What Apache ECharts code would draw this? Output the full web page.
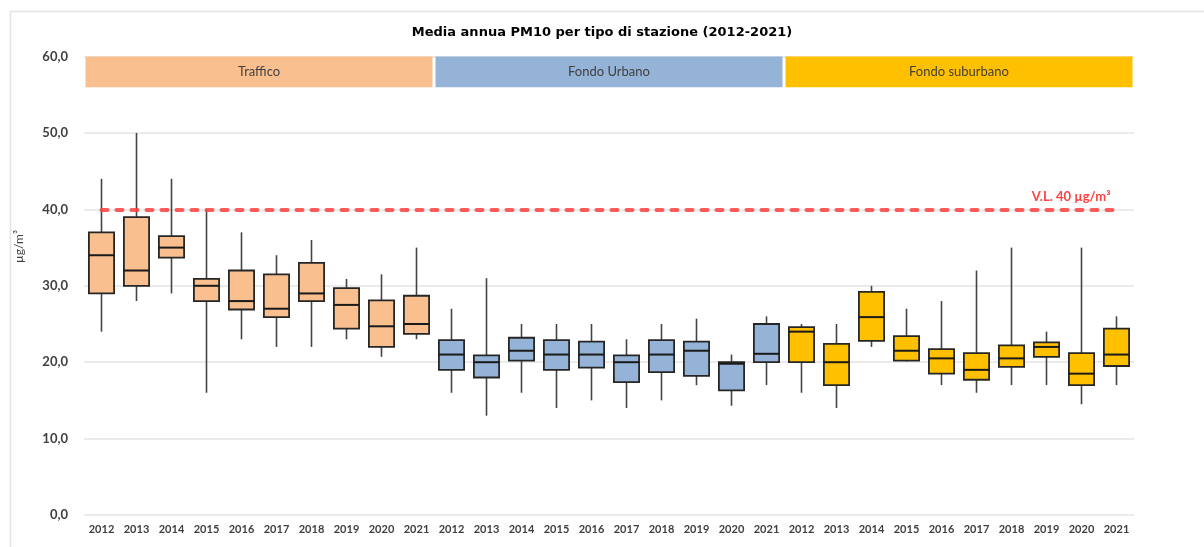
<!DOCTYPE html>
<html>
<head>
<meta charset="utf-8">
<title>Media annua PM10 per tipo di stazione</title>
<script src="https://cdn.jsdelivr.net/npm/echarts@6/dist/echarts.min.js"></script>
<style>
    html, body { margin: 0; padding: 0; background: #fff; }
    #chart { width: 1204px; height: 547px; }
</style>
</head>
<body>
<div id="chart"></div>
<script>
/**
 * data
 * each box: [min, q1, median, q3, max]
 */
var years = ['2012','2013','2014','2015','2016','2017','2018','2019','2020','2021'];
var groupNames = ['Traffico', 'Fondo Urbano', 'Fondo suburbano'];
var groupColors = ['#F9BF8F', '#95B3D7', '#FFC000'];

var trafficoData = [
    [24.0, 29.0, 34.0, 37.0, 44.0],
    [28.0, 30.0, 32.0, 39.0, 50.0],
    [29.0, 33.7, 35.0, 36.5, 44.0],
    [16.0, 28.0, 30.0, 30.9, 40.0],
    [23.0, 26.9, 28.0, 32.0, 37.0],
    [22.0, 25.9, 27.0, 31.5, 34.0],
    [22.0, 28.0, 29.0, 33.0, 36.0],
    [23.0, 24.4, 27.5, 29.7, 30.9],
    [20.7, 22.0, 24.7, 28.1, 31.5],
    [23.0, 23.7, 25.0, 28.7, 35.0]
];
var urbanoData = [
    [16.0, 19.0, 21.0, 22.9, 27.0],
    [13.0, 18.0, 20.0, 20.9, 31.0],
    [16.0, 20.2, 21.5, 23.2, 25.0],
    [14.0, 19.0, 21.0, 22.9, 25.0],
    [15.0, 19.3, 21.0, 22.7, 25.0],
    [14.0, 17.4, 20.0, 20.9, 23.0],
    [15.0, 18.7, 21.0, 22.9, 25.0],
    [17.0, 18.2, 21.5, 22.7, 25.7],
    [14.3, 16.3, 19.8, 20.0, 21.0],
    [17.0, 20.0, 21.1, 25.0, 26.0]
];
var suburbanoData = [
    [16.0, 20.0, 24.0, 24.6, 25.0],
    [14.0, 17.0, 20.0, 22.4, 25.0],
    [22.0, 22.8, 25.9, 29.2, 30.0],
    [20.1, 20.2, 21.5, 23.4, 27.0],
    [17.0, 18.5, 20.5, 21.7, 28.0],
    [16.0, 17.7, 19.0, 21.2, 32.0],
    [17.0, 19.4, 20.5, 22.2, 35.0],
    [17.0, 20.7, 22.0, 22.6, 24.0],
    [14.5, 17.0, 18.5, 21.2, 35.0],
    [17.0, 19.5, 21.0, 24.4, 26.0]
];

var limitValue = 40;
var limitLabel = 'V.L. 40 \u00b5g/m\u00b3';
var yTicks = [0, 10, 20, 30, 40, 50, 60];
var bandRange = [56, 60];

var textColor = '#404040';
var fontName = 'Lato, "Open Sans", sans-serif';

// category labels: 3 groups x 10 years
var categories = [];
groupNames.forEach(function(){ categories = categories.concat(years); });

/**
 * build custom series data for one group
 */
function buildBoxData(rows, groupIndex){
    var out = [];
    rows.forEach(function(r, k){
        out.push([groupIndex * years.length + k, r[0], r[1], r[2], r[3], r[4]]);
    });
    return out;
}

/**
 * draw a box with whiskers (no end caps, like the source)
 */
function renderBox(params, api){
    var x = api.value(0);
    var pMin = api.coord([x, api.value(1)]);
    var pQ1 = api.coord([x, api.value(2)]);
    var pMed = api.coord([x, api.value(3)]);
    var pQ3 = api.coord([x, api.value(4)]);
    var pMax = api.coord([x, api.value(5)]);
    var w = api.size([1, 0])[0] * 0.72;
    var cx = pMed[0];
    var fill = api.visual('color');
    return {
        type: 'group',
        children: [
            {
                type: 'line',
                shape: { x1: cx, y1: pMax[1], x2: cx, y2: pMin[1] },
                style: { stroke: '#444444', lineWidth: 1.6 }
            },
            {
                type: 'rect',
                shape: { x: cx - w / 2, y: pQ3[1], width: w, height: pQ1[1] - pQ3[1] },
                style: { fill: fill, stroke: '#262626', lineWidth: 1.8 }
            },
            {
                type: 'line',
                shape: { x1: cx - w / 2, y1: pMed[1], x2: cx + w / 2, y2: pMed[1] },
                style: { stroke: '#1a1a1a', lineWidth: 2 }
            }
        ]
    };
}

/**
 * header bands over the plot
 */
function renderBand(params, api){
    var s = api.value(0), e = api.value(1);
    var bw = api.size([1, 0])[0];
    var pTop = api.coord([s, bandRange[1]]);
    var pBot = api.coord([e, bandRange[0]]);
    var left = pTop[0] - bw / 2 + 1.5;
    var right = pBot[0] + bw / 2 - 1.5;
    return {
        type: 'rect',
        shape: { x: left, y: pTop[1], width: right - left, height: pBot[1] - pTop[1] },
        style: { fill: groupColors[params.dataIndex] },
        textContent: {
            style: {
                text: groupNames[params.dataIndex],
                fill: textColor,
                fontSize: 13,
                fontFamily: fontName
            }
        },
        textConfig: { position: 'inside' }
    };
}

var bandData = groupNames.map(function(n, i){
    return [i * years.length, (i + 1) * years.length - 1];
});

var boxSeries = [trafficoData, urbanoData, suburbanoData].map(function(rows, i){
    return {
        name: groupNames[i],
        type: 'custom',
        renderItem: renderBox,
        itemStyle: { color: groupColors[i] },
        encode: { x: 0, y: [1, 2, 3, 4, 5] },
        data: buildBoxData(rows, i),
        z: 3
    };
});

// limit line series carries the dashed markLine
var limitSeries = {
    name: 'limit',
    type: 'line',
    data: [],
    silent: true,
    markLine: {
        symbol: 'none',
        silent: true,
        lineStyle: { color: '#ff4040', width: 4, type: [6, 9], cap: 'round', opacity: 0.85 },
        label: {
            show: true,
            position: 'insideEndTop',
            formatter: limitLabel,
            color: '#ff2020',
            fontWeight: 'bold',
            fontSize: 13,
            fontFamily: fontName,
            distance: 6
        },
        data: [[
            { coord: [0, limitValue] },
            { coord: [categories.length - 1, limitValue] }
        ]]
    },
    z: 2
};

var chart = echarts.init(document.getElementById('chart'));
var option = {
    animation: false,
    backgroundColor: '#fff',
    title: {
        text: 'Media annua PM10 per tipo di stazione (2012-2021)',
        left: 'center',
        top: 21,
        textStyle: {
            fontFamily: '"DejaVu Sans", sans-serif',
            fontWeight: 'bold',
            fontSize: 13,
            color: '#000'
        }
    },
    graphic: [
        {
            type: 'rect',
            left: 8,
            top: 9,
            shape: { width: 1300, height: 600 },
            style: { fill: 'none', stroke: '#e4e4e4', lineWidth: 1.5 },
            silent: true
        },
        {
            type: 'text',
            left: 13,
            top: 230,
            rotation: Math.PI / 2,
            style: {
                text: '\u00b5g/m\u00b3',
                fill: textColor,
                fontSize: 12,
                fontFamily: fontName
            }
        }
    ],
    grid: { left: 84, right: 70, top: 56.6, bottom: 32 },
    xAxis: {
        type: 'category',
        data: categories,
        axisLine: { show: false },
        axisTick: { show: false },
        axisLabel: {
            interval: 0,
            margin: 9,
            color: textColor,
            fontSize: 11,
            fontWeight: 'bold',
            fontFamily: fontName
        },
        splitLine: { show: false }
    },
    yAxis: {
        type: 'value',
        min: yTicks[0],
        max: yTicks[yTicks.length - 1],
        interval: 10,
        axisLine: { show: false },
        axisTick: { show: false },
        axisLabel: {
            margin: 16,
            color: textColor,
            fontSize: 13,
            fontWeight: 'bold',
            fontFamily: fontName,
            formatter: function(v){ return v.toFixed(1).replace('.', ','); }
        },
        splitLine: { lineStyle: { color: '#e4e4e4', width: 1.5 } }
    },
    series: [limitSeries].concat(boxSeries).concat([{
        name: 'bands',
        type: 'custom',
        renderItem: renderBand,
        encode: { x: [0, 1] },
        data: bandData,
        silent: true,
        z: 5
    }])
};
chart.setOption(option);
</script>
</body>
</html>
